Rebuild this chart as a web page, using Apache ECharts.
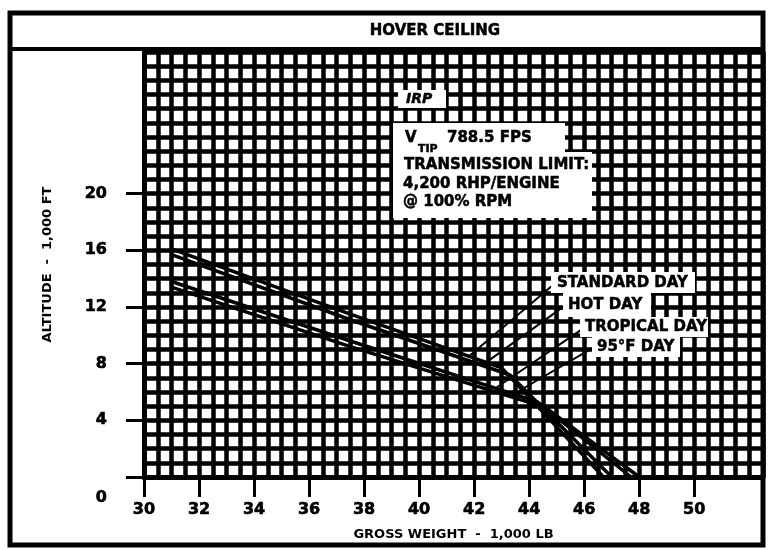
<!DOCTYPE html>
<html><head><meta charset="utf-8">
<script src="https://cdn.jsdelivr.net/npm/echarts@6/dist/echarts.min.js"></script>
<style>html,body{margin:0;padding:0;background:#fff}#c{width:770px;height:550px}</style>
</head><body><div id="c"></div>
<script>
// ---- data ----
const xTicks = [30, 32, 34, 36, 38, 40, 42, 44, 46, 48, 50];
const yTicks = [0, 4, 8, 12, 16, 20];
const standardDay = [[31, 16.1], [37.5, 11.5], [43.0, 7.7], [46.7, 0]];
const hotDay      = [[31, 15.7], [37.5, 11.1], [43.3, 7.2], [47.0, 0]];
const tropicalDay = [[31, 13.8], [37.5, 9.6], [44.3, 5.3], [47.7, 0]];
const day95F      = [[31, 13.4], [37.5, 9.2], [44.6, 4.9], [48.0, 0]];
const leaderStandard = [[41.8, 8.5], [44.9, 13.6]];
const leaderHot      = [[42.3, 7.9], [45.3, 12.1]];
const leaderTropical = [[42.8, 6.3], [45.9, 10.4]];
const leader95F      = [[43.3, 5.7], [46.3, 9.1]];

const FONT = '"DejaVu Sans", "Liberation Sans", sans-serif';
const chart = echarts.init(document.getElementById('c'), null, {renderer: 'canvas'});

function curve(name, data) {
  return {name, type: 'line', data, symbol: 'none', smooth: false,
    lineStyle: {color: '#000', width: 3.5}, z: 5};
}
function leader(data) {
  return {type: 'line', data, symbol: 'none', lineStyle: {color: '#000', width: 2}, z: 5};
}
function txt(text, x, y, size, opts) {
  opts = opts || {};
  return {type: 'text', z: 60, style: {
    text, x, y, fill: '#000', stroke: '#000', lineWidth: 0.5,
    font: (opts.italic ? 'italic ' : '') + 'bold ' + size + 'px ' + FONT,
    textVerticalAlign: 'middle', textAlign: opts.align || 'left'
  }};
}
function box(x, y, w, h) {
  return {type: 'rect', z: 50, shape: {x, y, width: w, height: h}, style: {fill: '#fff'}};
}
const labelStyle = {fontFamily: FONT, fontWeight: 'bold', fontSize: 16, color: '#000',
  textBorderColor: '#000', textBorderWidth: 0.6};

const option = {
  backgroundColor: '#fff',
  animation: false,
  grid: {left: 144, right: 7, top: 52, bottom: 73, containLabel: false},
  xAxis: [{
    type: 'value', min: 30, max: 52.5, interval: 0.5,
    name: 'GROSS WEIGHT  -  1,000 LB', nameLocation: 'middle', nameGap: 51,
    nameTextStyle: {fontFamily: FONT, fontWeight: 'bold', fontSize: 13, color: '#000'},
    axisLine: {show: true, onZero: false, lineStyle: {color: '#000', width: 5}},
    axisTick: {show: true, customValues: xTicks, length: 20, lineStyle: {color: '#000', width: 3}},
    axisLabel: Object.assign({customValues: xTicks, margin: 25}, labelStyle),
    splitLine: {show: false}, z: 10
  }, {
    type: 'value', min: 30, max: 52.5, interval: 0.5, position: 'bottom',
    axisLine: {show: false}, axisTick: {show: false}, axisLabel: {show: false},
    splitLine: {show: true, lineStyle: {color: '#000', width: 4.5}}
  }],
  yAxis: [{
    type: 'value', min: 0, max: 30, interval: 1,
    name: 'ALTITUDE  -  1,000 FT', nameLocation: 'middle', nameGap: 90, nameRotate: 90,
    nameTextStyle: {fontFamily: FONT, fontWeight: 'bold', fontSize: 13, color: '#000'},
    axisLine: {show: true, onZero: false, lineStyle: {color: '#000', width: 5}},
    axisTick: {show: true, customValues: yTicks, length: 18, lineStyle: {color: '#000', width: 3}},
    axisLabel: Object.assign({customValues: yTicks, margin: 37,
      formatter: v => v === 0 ? '{z|0}' : String(v),
      rich: {z: Object.assign({padding: [42, 0, 0, 0]}, labelStyle)}}, labelStyle),
    splitLine: {show: false}, z: 10
  }, {
    type: 'value', min: 0, max: 30, interval: 1, position: 'left',
    axisLine: {show: false}, axisTick: {show: false}, axisLabel: {show: false},
    splitLine: {show: true, lineStyle: {color: '#000', width: 4.5}}
  }],
  series: [
    curve('STANDARD DAY', standardDay),
    curve('HOT DAY', hotDay),
    curve('TROPICAL DAY', tropicalDay),
    curve('95°F DAY', day95F),
    leader(leaderStandard), leader(leaderHot), leader(leaderTropical), leader(leader95F)
  ],
  graphic: [
    {type: 'rect', z: 100, shape: {x: 10, y: 13, width: 753, height: 532},
      style: {fill: 'none', stroke: '#000', lineWidth: 5}},
    {type: 'line', z: 100, shape: {x1: 10, y1: 49, x2: 763, y2: 49},
      style: {stroke: '#000', lineWidth: 4}},
    txt('HOVER CEILING', 435, 31, 15, {align: 'center'}),
    box(398, 90, 48, 18),
    box(393, 123, 172, 30),
    box(393, 152, 199, 66),
    box(551, 272, 144, 21),
    box(563, 293, 88, 24),
    box(580, 317, 128, 20),
    box(592, 337, 88, 20),
    txt('IRP', 406, 99, 14, {italic: true}),
    txt('V', 405, 138, 15),
    txt('TIP', 418, 149, 11),
    txt('788.5 FPS', 447, 138, 15),
    txt('TRANSMISSION LIMIT:', 404, 165, 15),
    txt('4,200 RHP/ENGINE', 403, 184, 15),
    txt('@ 100% RPM', 403, 202, 15),
    txt('STANDARD DAY', 557, 283, 15),
    txt('HOT DAY', 568, 305, 15),
    txt('TROPICAL DAY', 585, 327, 15),
    txt('95°F DAY', 597, 347, 15)
  ]
};
chart.setOption(option);
</script></body></html>
